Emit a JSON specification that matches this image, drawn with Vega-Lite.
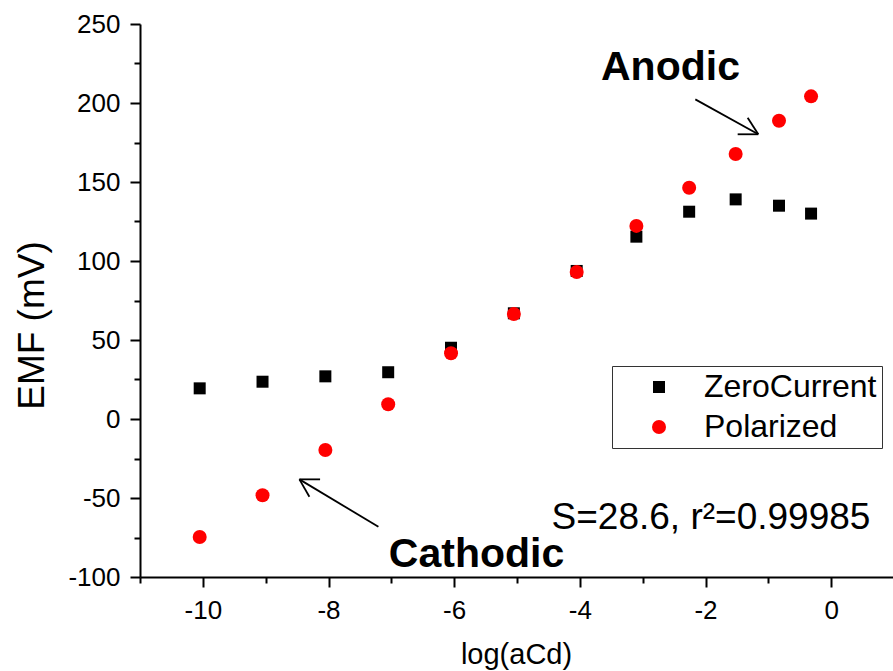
{
  "$schema": "https://vega.github.io/schema/vega-lite/v6.json",
  "width": 754,
  "height": 553,
  "autosize": "none",
  "padding": {"left": 140, "top": 24, "right": 0, "bottom": 94},
  "background": "white",
  "config": {
    "view": {"stroke": null},
    "font": "Liberation Sans",
    "axis": {
      "domainColor": "black",
      "domainWidth": 2,
      "tickColor": "black",
      "tickWidth": 2,
      "labelColor": "black",
      "labelFontSize": 26,
      "labelPadding": 10,
      "titleColor": "black",
      "titleFontWeight": "normal",
      "grid": false
    }
  },
  "datasets": {
    "emf": [
      {"series": "ZeroCurrent", "x": -10.05, "y": 19.4},
      {"series": "ZeroCurrent", "x": -9.05, "y": 23.6},
      {"series": "ZeroCurrent", "x": -8.05, "y": 27.0},
      {"series": "ZeroCurrent", "x": -7.05, "y": 29.6},
      {"series": "ZeroCurrent", "x": -6.05, "y": 45.1},
      {"series": "ZeroCurrent", "x": -5.05, "y": 66.9},
      {"series": "ZeroCurrent", "x": -4.05, "y": 93.7},
      {"series": "ZeroCurrent", "x": -3.10, "y": 115.4},
      {"series": "ZeroCurrent", "x": -2.26, "y": 131.2},
      {"series": "ZeroCurrent", "x": -1.52, "y": 139.0},
      {"series": "ZeroCurrent", "x": -0.83, "y": 135.0},
      {"series": "ZeroCurrent", "x": -0.32, "y": 130.0},
      {"series": "Polarized", "x": -10.05, "y": -74.7},
      {"series": "Polarized", "x": -9.05, "y": -48.3},
      {"series": "Polarized", "x": -8.05, "y": -19.6},
      {"series": "Polarized", "x": -7.05, "y": 9.3},
      {"series": "Polarized", "x": -6.05, "y": 41.6},
      {"series": "Polarized", "x": -5.05, "y": 66.5},
      {"series": "Polarized", "x": -4.05, "y": 93.0},
      {"series": "Polarized", "x": -3.10, "y": 122.2},
      {"series": "Polarized", "x": -2.26, "y": 146.4},
      {"series": "Polarized", "x": -1.52, "y": 167.7},
      {"series": "Polarized", "x": -0.83, "y": 188.8},
      {"series": "Polarized", "x": -0.32, "y": 204.2}
    ],
    "arrows": [
      {"x": -2.162, "y": 202.3, "x2": -1.160, "y2": 180.2},
      {"x": -1.160, "y": 180.2, "x2": -1.488, "y2": 180.2},
      {"x": -1.160, "y": 180.2, "x2": -1.329, "y2": 190.7},
      {"x": -7.206, "y": -68.2, "x2": -8.463, "y2": -38.2},
      {"x": -8.463, "y": -38.2, "x2": -8.134, "y2": -38.2},
      {"x": -8.463, "y": -38.2, "x2": -8.304, "y2": -49.2}
    ],
    "regions": [
      {"label": "Anodic", "x": -3.663, "y": 214.6},
      {"label": "Cathodic", "x": -7.04, "y": -93.7}
    ],
    "fit": [
      {"label": "S=28.6, r²=0.99985", "x": -4.45, "y": -69.9}
    ]
  },
  "encoding": {
    "x": {
      "field": "x",
      "type": "quantitative",
      "scale": {"domain": [-11, 1], "nice": false, "zero": false},
      "axis": {
        "title": "log(aCd)",
        "titleFontSize": 29,
        "titleX": 376,
        "titleY": 86,
        "titleBaseline": "alphabetic",
        "values": [-11, -10, -9, -8, -7, -6, -5, -4, -3, -2, -1, 0, 1],
        "labelExpr": "datum.value % 2 === 0 ? '' + datum.value : ''",
        "tickSize": {"condition": {"test": "datum.value % 2 === 0", "value": 10}, "value": 6},
        "labelFlush": false,
        "labelOverlap": false
      }
    },
    "y": {
      "field": "y",
      "type": "quantitative",
      "scale": {"domain": [-100, 250], "nice": false, "zero": false},
      "axis": {
        "title": "EMF (mV)",
        "titleFontSize": 37,
        "titleAngle": 270,
        "titleX": -96.7,
        "titleY": 301,
        "titleAlign": "center",
        "titleBaseline": "alphabetic",
        "values": [-100, -75, -50, -25, 0, 25, 50, 75, 100, 125, 150, 175, 200, 225, 250],
        "labelExpr": "datum.value % 50 === 0 ? '' + datum.value : ''",
        "tickSize": {"condition": {"test": "datum.value % 50 === 0", "value": 10}, "value": 6},
        "labelFlush": false,
        "labelOverlap": false
      }
    }
  },
  "layer": [
    {
      "data": {"name": "emf"},
      "mark": {"type": "point", "filled": true, "opacity": 1},
      "encoding": {
        "color": {
          "field": "series",
          "type": "nominal",
          "scale": {"domain": ["ZeroCurrent", "Polarized"], "range": ["black", "#ff0000"]},
          "legend": {
            "title": null,
            "orient": "none",
            "legendX": 472,
            "legendY": 342,
            "strokeColor": "#333",
            "padding": 5,
            "symbolOffset": 26,
            "labelOffset": 29,
            "labelFontSize": 32,
            "labelColor": "black",
            "labelLimit": 400,
            "rowPadding": 8,
            "fillColor": "white"
          }
        },
        "shape": {
          "field": "series",
          "type": "nominal",
          "scale": {"domain": ["ZeroCurrent", "Polarized"], "range": ["square", "circle"]}
        },
        "size": {
          "field": "series",
          "type": "nominal",
          "scale": {"domain": ["ZeroCurrent", "Polarized"], "range": [144, 196]}
        }
      }
    },
    {
      "data": {"name": "arrows"},
      "mark": {"type": "rule", "color": "black", "strokeWidth": 1.8},
      "encoding": {
        "x2": {"field": "x2"},
        "y2": {"field": "y2"}
      }
    },
    {
      "data": {"name": "regions"},
      "mark": {"type": "text", "fontSize": 41, "fontWeight": "bold", "align": "left", "baseline": "alphabetic", "color": "black"},
      "encoding": {
        "text": {"field": "label"}
      }
    },
    {
      "data": {"name": "fit"},
      "mark": {"type": "text", "fontSize": 37, "align": "left", "baseline": "alphabetic", "color": "black"},
      "encoding": {
        "text": {"field": "label"}
      }
    }
  ]
}
